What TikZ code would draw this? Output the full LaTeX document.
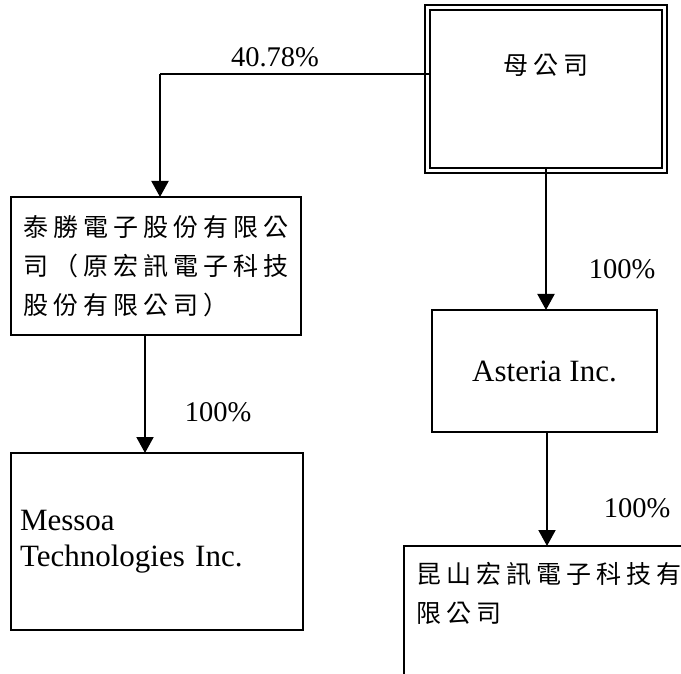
\documentclass[tikz,border=0pt]{standalone}
\usepackage{fontspec}
\setmainfont{Liberation Serif}
\newfontfamily\cjk[LetterSpace=20]{Noto Sans CJK TC}
\usetikzlibrary{arrows.meta}
\begin{document}
\begin{tikzpicture}[x=1pt,y=-1pt,
  box/.style={draw, line width=1.8pt, rectangle, inner sep=0pt, outer sep=0pt},
  cjktext/.style={font=\cjk\fontsize{25}{39}\selectfont},
  lattext/.style={font=\fontsize{31}{36}\selectfont},
  pct/.style={font=\fontsize{28.5}{34}\selectfont, inner sep=0pt},
  conn/.style={line width=2pt, -{Triangle[width=17pt,length=16pt]}},
  plain/.style={line width=1.5pt}]
\useasboundingbox (0,0) rectangle (681,674);
\fill[white] (0,0) rectangle (681,674);

% parent company (double border)
\node[box, line width=2.6pt, minimum width=232pt, minimum height=158pt] (parent) at (546,89) {};
\draw[line width=1.4pt] ([shift={(-5pt,5pt)}]parent.north west) rectangle ([shift={(5pt,-5pt)}]parent.south east);
\node[cjktext, inner sep=0pt] (parenttext) at (546,65) {母公司};

% Taisheng
\node[box, cjktext, align=left, minimum width=290pt, minimum height=138pt] (tai) at (156,266)
  {泰勝電子股份有限公\\司（原宏訊電子科技\\股份有限公司）};

% Messoa
\node[box, lattext, align=left, text width=274pt, minimum width=292pt, minimum height=177pt, inner xsep=9pt] (messoa) at (157,541.5)
  {\raisebox{3pt}{Messoa}\\\raisebox{3pt}{Technologies Inc.}};

% Asteria
\node[box, lattext, minimum width=225pt, minimum height=122pt] (asteria) at (544.5,371) {Asteria Inc.};

% Kunshan (cut off by the page edge)
\begin{scope}
\clip (0,0) rectangle (681,674);
\node[box, anchor=north west, minimum width=320pt, minimum height=200pt] (kun) at (404,546) {};
\end{scope}
\node[cjktext, align=left, anchor=north west, inner sep=0pt] (kuntext) at (416,562)
  {昆山宏訊電子科技有\\限公司};

% connectors
\coordinate (c1) at (160,74);
\draw[plain] (parent.west |- c1) -- (c1);
\draw[conn] (c1) -- (tai.north -| c1);
\coordinate (c2) at (145,0);
\draw[conn] (tai.south -| c2) -- (messoa.north -| c2);
\draw[conn] (parent.south) -- (asteria.north -| parent.south);
\coordinate (c3) at (547,0);
\draw[conn] (asteria.south -| c3) -- (kun.north -| c3);

% labels
\node[pct] (l1) at (275,57) {40.78\%};
\node[pct] (l2) at (218,412) {100\%};
\node[pct] (l3) at (622,269) {100\%};
\node[pct] (l4) at (637,508) {100\%};
\end{tikzpicture}
\end{document}
